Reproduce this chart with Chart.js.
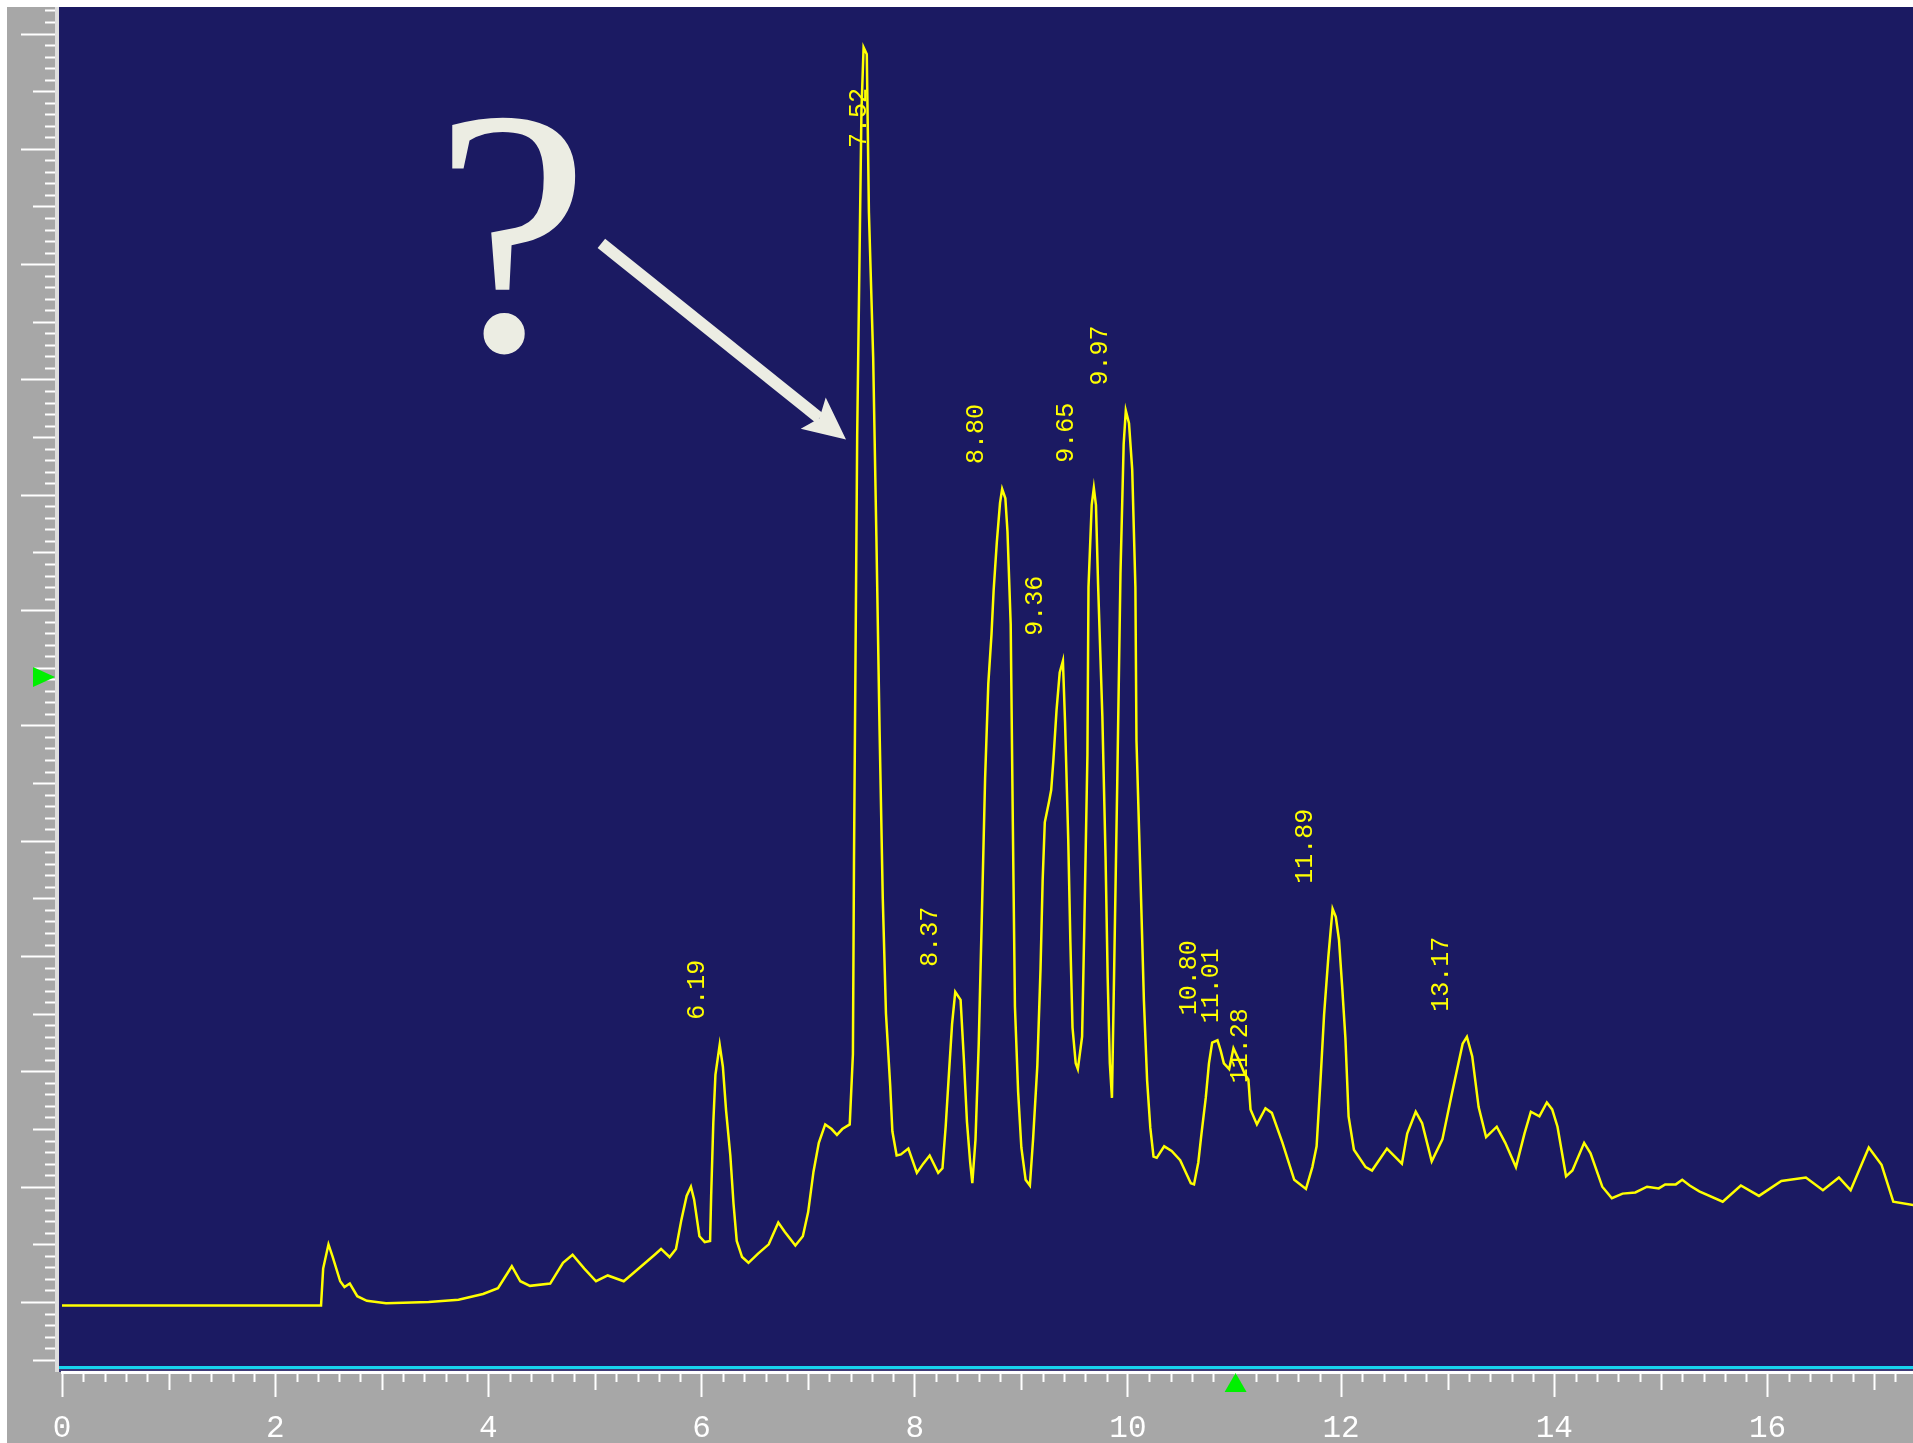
<!DOCTYPE html>
<html>
<head>
<meta charset="utf-8">
<script src="https://cdn.jsdelivr.net/npm/chart.js@4.4.0/dist/chart.umd.min.js"></script>
<style>
  html, body { margin: 0; padding: 0; background: #ffffff; overflow: hidden; }
  #cadre { width: 1913px; height: 1443px; }
</style>
</head>
<body>
<div id="cadre"><canvas id="chromatogramme" width="1913" height="1443"></canvas></div>
<script>
const temps = [
  0, 2.43, 2.45, 2.50, 2.54, 2.61, 2.65, 2.70, 2.77, 2.86, 3.04, 3.44, 3.72, 3.95, 4.09, 4.22, 4.30, 4.39,
  4.58, 4.70, 4.79, 4.90, 5.01, 5.12, 5.27, 5.41, 5.56,
  5.62, 5.70, 5.76, 5.81, 5.86, 5.90, 5.93, 5.98, 6.03, 6.08, 6.09, 6.11, 6.13, 6.17, 6.20, 6.23, 6.27,
  6.30, 6.33, 6.38, 6.44, 6.53, 6.63, 6.72, 6.78, 6.88, 6.95, 7.00, 7.05, 7.10, 7.16, 7.22, 7.27, 7.32,
  7.39, 7.42, 7.43, 7.46, 7.50, 7.52, 7.55, 7.57, 7.61, 7.64, 7.67, 7.70, 7.73, 7.77, 7.79, 7.83, 7.87,
  7.94, 8.02, 8.08, 8.14, 8.22, 8.26, 8.29, 8.32, 8.35, 8.38,
  8.43, 8.46, 8.49, 8.52, 8.54, 8.57, 8.60, 8.63, 8.66, 8.69, 8.72, 8.74, 8.77, 8.80, 8.82, 8.85, 8.87,
  8.90, 8.92, 8.94, 8.97, 9.00, 9.04, 9.08, 9.11, 9.15, 9.18, 9.20, 9.22, 9.26, 9.28, 9.30, 9.33, 9.36,
  9.39, 9.41, 9.44, 9.46, 9.48, 9.51, 9.53, 9.57, 9.59, 9.62, 9.63, 9.66, 9.68, 9.70, 9.72, 9.76, 9.79,
  9.81, 9.83, 9.85, 9.87, 9.90, 9.93, 9.96, 9.98, 10.01, 10.04, 10.07, 10.08, 10.12, 10.15, 10.18, 10.21,
  10.24, 10.27, 10.34, 10.41, 10.49, 10.54, 10.59, 10.62, 10.66, 10.69, 10.73, 10.76, 10.79, 10.84, 10.87,
  10.90, 10.95, 10.99, 11.03, 11.10,
  11.13, 11.15, 11.21, 11.29, 11.35, 11.45, 11.56, 11.67, 11.73, 11.77, 11.81, 11.84, 11.88, 11.92, 11.95,
  11.98, 12.01, 12.04, 12.07, 12.12, 12.23, 12.29, 12.43, 12.57, 12.62, 12.70, 12.76, 12.85, 12.95, 13.04,
  13.14, 13.18, 13.23, 13.29, 13.36, 13.46, 13.54, 13.64, 13.72, 13.78, 13.86, 13.93, 13.98, 14.03, 14.11,
  14.17, 14.28, 14.34, 14.45, 14.54, 14.64, 14.76, 14.87, 14.98, 15.04, 15.14, 15.20, 15.27, 15.36,
  15.58, 15.75, 15.92, 16.13, 16.36, 16.52, 16.67, 16.78, 16.95, 17.07, 17.18, 17.37,
];
const signal = [
  -0.3, -0.3, 2.9, 5.0, 3.9, 1.8, 1.3, 1.6, 0.5, 0.1, -0.1, 0.0, 0.2, 0.7, 1.2, 3.1, 1.8, 1.4,
  1.6, 3.4, 4.1, 2.9, 1.8, 2.3, 1.8, 2.9, 4.1,
  4.6, 3.9, 4.6, 7.1, 9.2, 10.0, 8.9, 5.7, 5.2, 5.3, 9.2, 15.5, 19.7, 22.3, 20.4, 16.6, 12.7,
  8.5, 5.3, 3.9, 3.4, 4.2, 5.0, 6.9, 6.1, 4.9, 5.7, 7.8, 11.3, 13.8, 15.4, 15.0, 14.5, 15.0,
  15.4, 21.5, 38.3, 75.2, 103.3, 108.8, 108.2, 94.5, 81.9, 66.4, 49.6, 35.0, 25.0, 18.7, 14.8, 12.7, 12.8,
  13.3, 11.2, 12.0, 12.7, 11.2, 11.6, 15.2, 19.7, 24.1, 26.9,
  26.2, 21.2, 15.6, 12.1, 10.3, 14.1, 22.3, 33.7, 45.4, 53.6, 57.9, 61.7, 65.9, 69.3, 70.5, 69.7, 66.8,
  58.8, 41.6, 25.6, 18.2, 13.4, 10.6, 10.1, 14.1, 20.5, 28.9, 36.6, 41.6, 43.4, 44.4, 46.9, 51.3, 54.6,
  55.6, 50.3, 40.1, 31.2, 23.8, 20.7, 20.2, 23.0, 32.2, 47.5, 62.0, 69.1, 70.6, 69.1, 62.2, 50.8, 38.6,
  28.1, 20.7, 17.7, 28.4, 45.2, 63.2, 74.4, 77.3, 76.2, 72.2, 62.0, 48.7, 36.0, 26.1, 19.2, 15.1,
  12.6, 12.5, 13.5, 13.1, 12.3, 11.3, 10.3, 10.2, 12.1, 14.6, 17.7, 20.7, 22.5, 22.7, 21.8,
  20.7, 20.2, 22.0, 21.2, 19.7,
  19.3, 16.7, 15.4, 16.8, 16.4, 13.8, 10.6, 9.8, 11.7, 13.5, 19.8, 24.9, 29.9, 34.1, 33.4,
  31.4, 27.3, 22.9, 16.1, 13.2, 11.7, 11.4, 13.3, 12.0, 14.6, 16.5, 15.5, 12.2, 14.1, 18.1,
  22.4, 23.0, 21.3, 16.9, 14.3, 15.2, 13.8, 11.7, 14.6, 16.5, 16.1, 17.3, 16.7, 15.2, 10.9,
  11.4, 13.8, 12.9, 10.0, 9.0, 9.4, 9.5, 10.0, 9.85, 10.2, 10.2, 10.6, 10.1, 9.6,
  8.7, 10.1, 9.2, 10.5, 10.8, 9.7, 10.8, 9.7, 13.4, 11.9, 8.7, 8.4,
];

// Pics intégrés : temps affiché et hauteur du sommet
const picsTemps = [6.19, 7.52, 8.37, 8.80, 9.36, 9.65, 9.97, 10.80, 11.01, 11.28, 11.89, 13.17];
const picsHauteurs = [22.3, 108.8, 26.9, 70.5, 55.6, 70.6, 77.3, 22.7, 22.0, 16.8, 34.1, 23.0];

// Graduations de l'axe des temps
const ticksTemps = [0, 2, 4, 6, 8, 10, 12, 14, 16];

// Repères verts et annotation (en unités du graphique)
const repereSignal = 54.2;
const repereTemps = 11.01;
const questionPos = { x: 4.22, y: 82.6 };
const flecheDebut = { x: 5.06, y: 91.8 };
const flecheFin = { x: 7.355, y: 74.8 };

const BLEU = "#1b1a62";
const GRIS = "#a7a7a7";
const JAUNE = "#ffff00";
const CREME = "#ecede3";

// Fond, règles graduées et annotations
const pluginChromato = {
  id: "chromato",
  beforeDraw(chart) {
    const { ctx, chartArea: a, scales } = chart;
    const W = chart.width, H = chart.height;
    ctx.save();
    ctx.fillStyle = "#ffffff";
    ctx.fillRect(0, 0, W, H);
    ctx.fillStyle = GRIS;
    ctx.fillRect(7, 7, 52, H - 7);
    ctx.fillRect(7, a.bottom, W - 7, H - a.bottom);
    ctx.fillStyle = "#dedede";
    ctx.fillRect(55, 7, 4, a.bottom - 7);
    ctx.fillStyle = BLEU;
    ctx.fillRect(59, a.top, W - 59, a.bottom - a.top);

    // règle verticale
    const y = scales.y;
    ctx.strokeStyle = "#ffffff";
    ctx.lineWidth = 2;
    for (let v = Math.ceil(y.min); v <= y.max; v++) {
      const py = Math.round(y.getPixelForValue(v)) + 0.5;
      if (py > a.bottom - 8) continue;
      const len = v % 10 === 0 ? 34 : (Math.abs(v % 10) === 5 ? 22 : 10);
      ctx.beginPath();
      ctx.moveTo(55, py);
      ctx.lineTo(55 - len, py);
      ctx.stroke();
    }

    // petites graduations de l'axe des temps
    const x = scales.x;
    for (let k = 1; k * 0.2 <= x.max; k++) {
      if (k % 10 === 0) continue;
      const px = Math.round(x.getPixelForValue(k * 0.2)) + 0.5;
      const len = k % 5 === 0 ? 16 : 8;
      ctx.beginPath();
      ctx.moveTo(px, a.bottom + 2);
      ctx.lineTo(px, a.bottom + 2 + len);
      ctx.stroke();
    }

    // ligne de base cyan
    ctx.fillStyle = "#17d4ee";
    ctx.fillRect(59, a.bottom - 6, W - 59, 3);
    ctx.fillStyle = "#3c3a78";
    ctx.fillRect(59, a.bottom - 3, W - 59, 3);
    ctx.restore();
  },
  afterDatasetsDraw(chart) {
    const { ctx, chartArea: a, scales: { x, y } } = chart;
    ctx.save();

    // étiquettes des pics
    ctx.fillStyle = JAUNE;
    ctx.font = '25px "Liberation Mono"';
    ctx.textAlign = "left";
    ctx.textBaseline = "middle";
    picsTemps.forEach((t, i) => {
      const txt = t.toFixed(2);
      const largeur = ctx.measureText(txt).width;
      let cx = x.getPixelForValue(t) - 24;
      let bas = y.getPixelForValue(picsHauteurs[i]) - 25;
      if (bas - largeur < a.top + 10) {
        cx = x.getPixelForValue(t) - 4;
        bas = a.top + 141;
      }
      ctx.save();
      ctx.translate(cx, bas);
      ctx.rotate(-Math.PI / 2);
      ctx.fillText(txt, 0, 0);
      ctx.restore();
    });

    // point d'interrogation et flèche
    ctx.fillStyle = CREME;
    ctx.font = '350px "Liberation Serif"';
    ctx.textAlign = "center";
    ctx.textBaseline = "alphabetic";
    ctx.fillText("?", x.getPixelForValue(questionPos.x), y.getPixelForValue(questionPos.y));

    const x0 = x.getPixelForValue(flecheDebut.x), y0 = y.getPixelForValue(flecheDebut.y);
    const x1 = x.getPixelForValue(flecheFin.x), y1 = y.getPixelForValue(flecheFin.y);
    const ang = Math.atan2(y1 - y0, x1 - x0);
    const ux = Math.cos(ang), uy = Math.sin(ang);
    const nx = -uy, ny = ux;
    const tete = 42, demi = 20;
    ctx.strokeStyle = CREME;
    ctx.lineWidth = 12;
    ctx.beginPath();
    ctx.moveTo(x0, y0);
    ctx.lineTo(x1 - ux * (tete - 8), y1 - uy * (tete - 8));
    ctx.stroke();
    ctx.beginPath();
    ctx.moveTo(x1, y1);
    ctx.lineTo(x1 - ux * tete + nx * demi, y1 - uy * tete + ny * demi);
    ctx.lineTo(x1 - ux * (tete - 8), y1 - uy * (tete - 8));
    ctx.lineTo(x1 - ux * tete - nx * demi, y1 - uy * tete - ny * demi);
    ctx.closePath();
    ctx.fill();

    // repères verts
    ctx.fillStyle = "#00f000";
    const ry = y.getPixelForValue(repereSignal);
    ctx.beginPath();
    ctx.moveTo(55, ry);
    ctx.lineTo(33, ry - 10);
    ctx.lineTo(33, ry + 10);
    ctx.closePath();
    ctx.fill();
    const rx = x.getPixelForValue(repereTemps);
    ctx.beginPath();
    ctx.moveTo(rx, a.bottom + 1);
    ctx.lineTo(rx - 11, a.bottom + 20);
    ctx.lineTo(rx + 11, a.bottom + 20);
    ctx.closePath();
    ctx.fill();
    ctx.restore();
  },
};

// Configuration du graphique
const configChromato = {
  type: "line",
  data: {
    datasets: [
      {
        label: "Signal",
        data: temps.map((t, i) => ({ x: t, y: signal[i] })),
        borderColor: JAUNE,
        borderWidth: 2.5,
        pointRadius: 0,
        tension: 0,
        fill: false,
      },
    ],
  },
  options: {
    responsive: false,
    animation: false,
    devicePixelRatio: 1,
    layout: { padding: { left: 62, top: 7, right: 0, bottom: 0 } },
    plugins: { legend: { display: false }, tooltip: { enabled: false } },
    scales: {
      x: {
        type: "linear",
        position: "bottom",
        min: 0,
        max: 17.365,
        grid: {
          drawOnChartArea: false,
          drawTicks: true,
          tickLength: 25,
          tickWidth: 2,
          tickColor: "#ffffff",
        },
        border: { display: true, color: "#ffffff", width: 3 },
        ticks: {
          color: "#ffffff",
          font: { family: "Liberation Mono", size: 31 },
          padding: 13,
          maxRotation: 0,
          autoSkip: false,
        },
        afterBuildTicks: (sc) => {
          sc.ticks = ticksTemps.map((v) => ({ value: v }));
        },
        afterFit: (sc) => {
          sc.height = 71;
        },
      },
      y: {
        type: "linear",
        display: false,
        min: -6.07,
        max: 112.3,
      },
    },
  },
  plugins: [pluginChromato],
};

window.addEventListener("DOMContentLoaded", () => {
  const ctx = document.getElementById("chromatogramme").getContext("2d");
  new Chart(ctx, configChromato);
});
</script>
</body>
</html>
